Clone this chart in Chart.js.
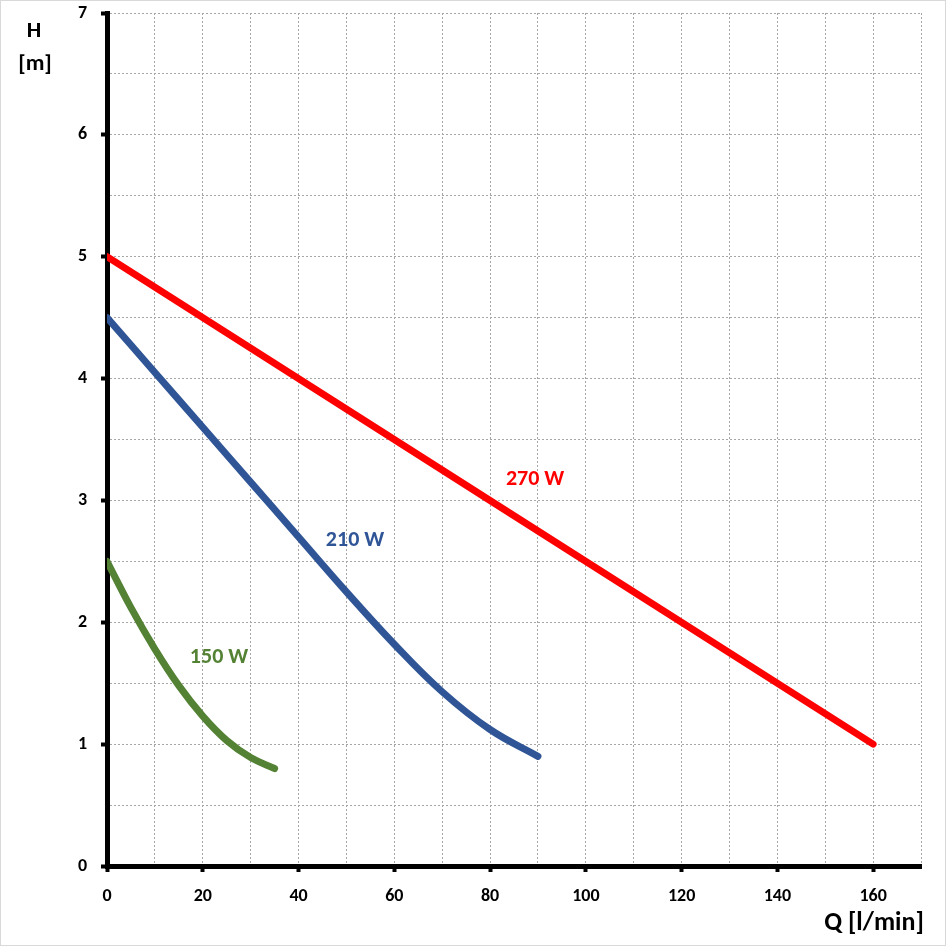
<!DOCTYPE html>
<html>
<head>
<meta charset="utf-8">
<script src="https://cdn.jsdelivr.net/npm/chart.js@4.4.1/dist/chart.umd.min.js"></script>
<style>
  html, body { margin: 0; padding: 0; background: #fff; }
  #wrap { width: 946px; height: 946px; }
</style>
</head>
<body>
<div id="wrap"><canvas id="c" width="946" height="946"></canvas></div>
<script>
// pump curves, Q in l/min, H in m
const q270 = [0, 160];
const h270 = [5, 1];
const q210 = [0, 10, 20, 30, 40, 50, 60, 70, 80, 90];
const h210 = [4.5, 4.05, 3.6, 3.15, 2.7, 2.25, 1.82, 1.43, 1.12, 0.9];
const q150 = [0, 5, 10, 15, 20, 25, 30, 35];
const h150 = [2.5, 2.12, 1.78, 1.48, 1.23, 1.03, 0.89, 0.8];

const curveNames = ['270 W', '210 W', '150 W'];
const curveColors = ['#FF0000', '#2F5597', '#548235'];
// where each curve's label sits, in data units
const labelQ = [89.4, 51.8, 23.4];
const labelH = [3.17, 2.67, 1.71];

const font = 'Calibri, Carlito, Lato, "Open Sans", sans-serif';

const pts = (xs, ys) => xs.map((x, i) => ({ x: x, y: ys[i] }));

const curve = (name, xs, ys, color) => ({
  label: name,
  data: pts(xs, ys),
  borderColor: color,
  borderWidth: 7,
  borderCapStyle: 'round',
  borderJoinStyle: 'round',
  pointRadius: 0,
  tension: 0.4,
  fill: false
});

const extras = {
  id: 'extras',
  afterDatasetsDraw(chart) {
    const { ctx, scales } = chart;
    ctx.save();
    ctx.font = 'bold 22px ' + font;
    ctx.textAlign = 'center';
    ctx.textBaseline = 'middle';
    for (let i = 0; i < curveNames.length; i++) {
      ctx.fillStyle = curveColors[i];
      ctx.fillText(curveNames[i], scales.x.getPixelForValue(labelQ[i]), scales.y.getPixelForValue(labelH[i]));
    }
    ctx.fillStyle = '#000';
    ctx.font = 'bold 23px ' + font;
    ctx.fillText('H', 34, 31);
    ctx.fillText('[m]', 35, 64);
    ctx.font = 'bold 26px ' + font;
    ctx.fillText('Q [l/min]', 874, 923);
    ctx.strokeStyle = '#D9D9D9';
    ctx.lineWidth = 1;
    ctx.strokeRect(0.5, 0.5, chart.width - 1, chart.height - 1);
    ctx.restore();
  }
};

new Chart(document.getElementById('c'), {
  type: 'line',
  data: {
    datasets: [
      curve(curveNames[0], q270, h270, curveColors[0]),
      curve(curveNames[1], q210, h210, curveColors[1]),
      curve(curveNames[2], q150, h150, curveColors[2])
    ]
  },
  options: {
    responsive: false,
    animation: false,
    layout: { padding: { left: 0, top: 13, right: 25, bottom: 0 } },
    plugins: { legend: { display: false }, tooltip: { enabled: false } },
    scales: {
      x: {
        type: 'linear',
        min: 0,
        max: 170,
        afterFit(s) { s.height = 80; s.paddingLeft = 0; s.paddingRight = 0; },
        ticks: {
          stepSize: 10,
          autoSkip: false,
          maxRotation: 0,
          padding: 14,
          color: '#000',
          font: { family: font, size: 18, weight: 'bold' },
          callback: v => (v % 20 === 0 ? String(v) : '')
        },
        grid: {
          color: '#A6A6A6',
          lineWidth: 1,
          drawTicks: true,
          tickLength: 6,
          tickWidth: 4,
          tickColor: c => (c.tick && c.tick.value % 20 === 0 && c.tick.value <= 160 ? '#000' : 'rgba(0,0,0,0)')
        },
        border: { display: true, color: '#000', width: 5, dash: [2, 2] }
      },
      y: {
        type: 'linear',
        min: 0,
        max: 7,
        afterFit(s) { s.width = 107; s.paddingTop = 0; s.paddingBottom = 0; },
        ticks: {
          stepSize: 0.5,
          autoSkip: false,
          padding: 14,
          color: '#000',
          font: { family: font, size: 18, weight: 'bold' },
          callback: v => (Number.isInteger(v) ? String(v) : '')
        },
        grid: {
          color: '#A6A6A6',
          lineWidth: 1,
          drawTicks: true,
          tickLength: 6,
          tickWidth: 4,
          tickColor: c => (c.tick && Number.isInteger(c.tick.value) ? '#000' : 'rgba(0,0,0,0)')
        },
        border: { display: true, color: '#000', width: 5, dash: [2, 2] }
      }
    }
  },
  plugins: [extras]
});
</script>
</body>
</html>
